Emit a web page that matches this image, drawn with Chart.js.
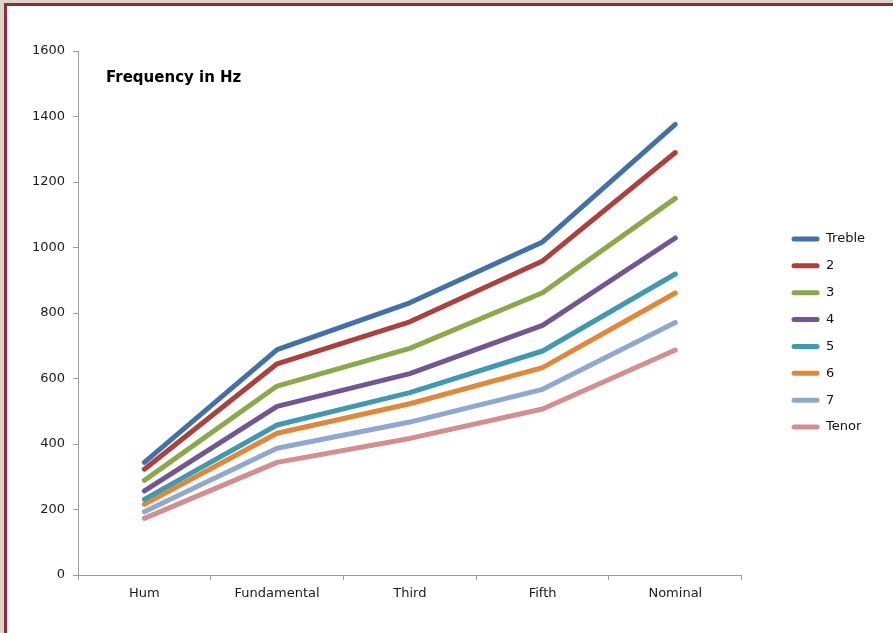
<!DOCTYPE html>
<html>
<head>
<meta charset="utf-8">
<script src="https://cdn.jsdelivr.net/npm/chart.js@4/dist/chart.umd.min.js"></script>
<style>
  html, body { margin: 0; padding: 0; background: #ddd4c8; overflow: hidden; }
  #frame {
    position: absolute; left: 4px; top: 3px; width: 889px; height: 630px;
    border-left: 3px solid #8e2a42; border-top: 3px solid #8e2a42;
    background: #ffffff;
  }
  #chart { display: block; }
</style>
</head>
<body>
<div id="frame"><canvas id="chart" width="886" height="627"></canvas></div>
<script>
// Strike tones of a ring of eight bells (Hz)
const partials = ['Hum', 'Fundamental', 'Third', 'Fifth', 'Nominal'];
const bellNames = ['Treble', '2', '3', '4', '5', '6', '7', 'Tenor'];
const treble = [344, 688, 831, 1017, 1376];
const bell2  = [323, 645, 773, 959, 1290];
const bell3  = [289, 577, 692, 862, 1150];
const bell4  = [257, 515, 615, 762, 1029];
const bell5  = [231, 458, 557, 684, 919];
const bell6  = [216, 433, 523, 633, 861];
const bell7  = [193, 387, 467, 567, 771];
const tenor  = [173, 344, 417, 507, 687];
const yTicks = [0, 200, 400, 600, 800, 1000, 1200, 1400, 1600];

const seriesValues = [treble, bell2, bell3, bell4, bell5, bell6, bell7, tenor];
const colours = ['#4271aa', '#aa413d', '#8aa94a', '#705791', '#4199b0', '#e1873a', '#8fa8cf', '#d38e90'];

const FONT = 'DejaVu Sans';

const datasets = bellNames.map((name, i) => ({
  label: name,
  data: seriesValues[i],
  borderColor: colours[i],
  backgroundColor: colours[i],
  borderWidth: 5,
  borderCapStyle: 'round',
  borderJoinStyle: 'round',
  pointRadius: 0,
  pointHoverRadius: 0,
  tension: 0,
  fill: false,
  yAxisID: 'y'
}));

// Bold caption drawn inside the plot area, top-left
const captionPlugin = {
  id: 'caption',
  afterDraw(chart) {
    const { ctx, chartArea } = chart;
    ctx.save();
    ctx.font = 'bold 15px "' + FONT + '"';
    ctx.fillStyle = '#000000';
    ctx.textAlign = 'left';
    ctx.textBaseline = 'alphabetic';
    ctx.fillText('Frequency in Hz', chartArea.left + 28, chartArea.top + 31);
    ctx.restore();
  }
};

new Chart(document.getElementById('chart'), {
  type: 'line',
  data: { labels: partials, datasets },
  plugins: [captionPlugin],
  options: {
    responsive: false,
    animation: false,
    events: [],
    layout: { padding: { top: 45, right: 18, bottom: 18, left: 0 } },
    plugins: {
      title: { display: false },
      tooltip: { enabled: false },
      legend: {
        position: 'right',
        align: 'center',
        labels: {
          font: { family: FONT, size: 13 },
          color: '#111111',
          boxWidth: 28,
          boxHeight: 5,
          padding: 13.86,
          useBorderRadius: true,
          borderRadius: 2.5,
          generateLabels(chart) {
            const items = Chart.defaults.plugins.legend.labels.generateLabels(chart);
            items.forEach(it => { it.lineWidth = 0; it.fillStyle = it.strokeStyle; });
            return items;
          }
        }
      }
    },
    scales: {
      x: {
        type: 'category',
        offset: true,
        grid: {
          offset: true,
          drawOnChartArea: false,
          drawTicks: true,
          tickLength: 5,
          color: '#9a9a9a'
        },
        border: { color: '#9a9a9a', width: 1 },
        ticks: {
          font: { family: FONT, size: 13 },
          color: '#1a1a1a',
          padding: 6,
          maxRotation: 0
        },
        afterFit(s) { s.height = 40; }
      },
      y: {
        type: 'linear',
        position: 'left',
        min: 0,
        max: 1600,
        afterBuildTicks(s) { s.ticks = yTicks.map(v => ({ value: v })); },
        grid: {
          drawOnChartArea: false,
          drawTicks: true,
          tickLength: 5,
          color: '#9a9a9a'
        },
        border: { color: '#9a9a9a', width: 1 },
        ticks: {
          font: { family: FONT, size: 13 },
          color: '#1a1a1a',
          padding: 8,
          callback: v => String(v)
        },
        afterFit(s) { s.width = 71; }
      },
      // empty spacer between the plot and the legend
      spacer: {
        type: 'linear',
        position: 'right',
        display: true,
        grid: { display: false, drawOnChartArea: false },
        border: { display: false },
        ticks: { display: false },
        afterFit(s) { s.width = 36; }
      }
    }
  }
});
</script>
</body>
</html>
